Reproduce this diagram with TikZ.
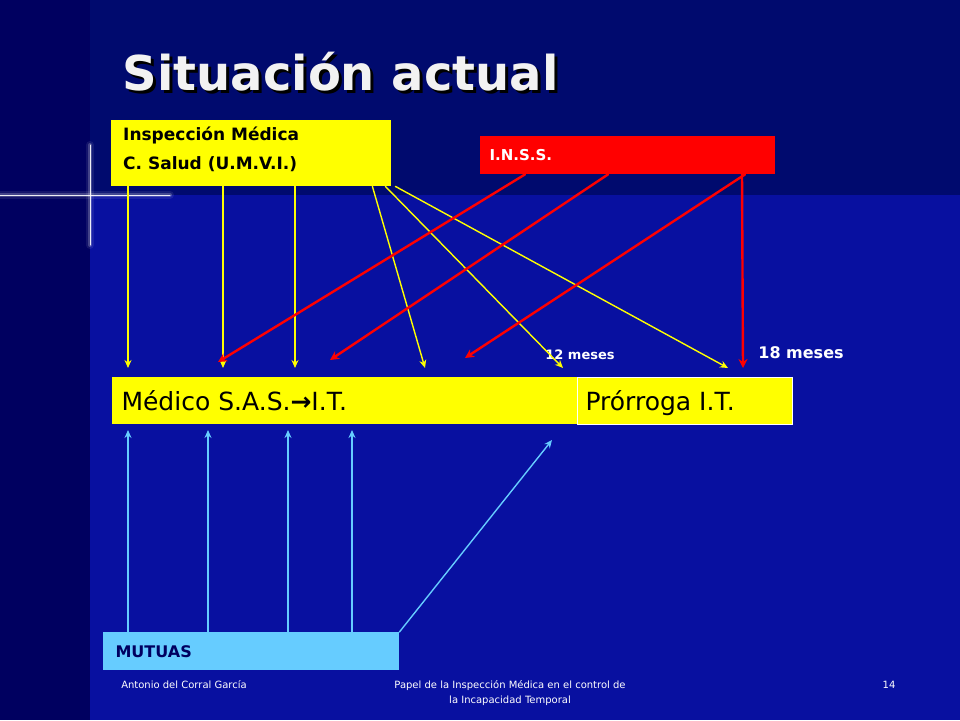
\documentclass[tikz,border=0pt]{standalone}
\usepackage{fontspec}
\setmainfont{DejaVu Sans}
\usetikzlibrary{arrows.meta}
\definecolor{navy}{RGB}{0,0,96}
\definecolor{topband}{RGB}{0,10,110}
\definecolor{slide}{RGB}{8,16,160}
\definecolor{mutblue}{RGB}{102,204,255}
\definecolor{ylw}{RGB}{255,255,0}
\definecolor{rd}{RGB}{255,0,0}
\tikzset{
  box/.style={draw=none,inner sep=0pt,anchor=north west},
  yarrow/.style={ylw,line width=1.4pt,-{Stealth[length=8pt,width=7pt]}},
  rarrow/.style={rd,line width=2.4pt,-{Stealth[length=9pt,width=9pt]}},
  barrow/.style={mutblue,line width=1.4pt,-{Stealth[length=8pt,width=7pt]}},
  foot/.style={white,font=\fontsize{10}{15}\selectfont}
}
\begin{document}
\begin{tikzpicture}[x=1pt,y=-1pt,line cap=round]
\useasboundingbox (0,0) rectangle (960,720);
% background
\fill[navy] (0,0) rectangle (960,720);
\fill[slide] (90,195) rectangle (960,720);
\fill[topband] (90,0) rectangle (960,195);
\foreach \w/\o in {8/0.08,4/0.2,1/0.9}{
  \draw[white,opacity=\o,line width=\w pt] (0,195) -- (170,195);
  \draw[white,opacity=\o,line width=\w pt] (90,145) -- (90,245);
}
% title
\node[black,anchor=west,font=\bfseries\fontsize{48}{52}\selectfont] (titleshadow) at (122,75) {Situación actual};
\node[white!90!gray,anchor=west,font=\bfseries\fontsize{48}{52}\selectfont] (title) at (119,72) {Situación actual};
% boxes
\node[box,fill=ylw,minimum width=280pt,minimum height=66pt] (insp) at (111,120) {};
\node[anchor=north west,align=left,font=\bfseries\fontsize{17}{29}\selectfont,inner sep=0pt] (insptxt) at (123,127) {Inspección Médica\\C. Salud (U.M.V.I.)};
\node[box,fill=rd,minimum width=295pt,minimum height=38pt] (inss) at (480,136) {};
\node[anchor=west,white,font=\bfseries\fontsize{15}{18}\selectfont] (insstxt) at (486,155) {I.N.S.S.};
\node[box,fill=ylw,minimum width=465pt,minimum height=47pt] (med) at (112,377) {};
\node[box,fill=ylw,draw=white,minimum width=215pt,minimum height=47pt] (pro) at (577,377) {};
\node[anchor=west,font=\fontsize{25}{28}\selectfont] (medtxt) at (118,401) {Médico S.A.S.{\bfseries →}I.T.};
\node[anchor=west,font=\fontsize{25}{28}\selectfont] (protxt) at (582,403) {Prórroga I.T.};
\node[box,fill=mutblue,minimum width=296pt,minimum height=38pt] (mut) at (103,632) {};
\node[anchor=west,text=navy,font=\bfseries\fontsize{16}{18}\selectfont] (muttxt) at (112,652) {MUTUAS};
% labels
\node[white,font=\bfseries\fontsize{13}{14}\selectfont] (m12) at (580,355) {12 meses};
\node[white,font=\bfseries\fontsize{16}{18}\selectfont] (m18) at (801,353) {18 meses};
% end points
\foreach \n/\x/\y in {y1/128/368,y2/223/368,y3/295/368,y4/425/368,y5/563/368,y6/728/368,
  r1/218/362,r2/330/360,r3/465/358,r4/743/368,
  b1/128/430,b2/208/430,b3/288/430,b4/352/430,b5/552/440}
  \coordinate (\n) at (\x,\y);
% yellow
\draw[yarrow] (insp.south west -| y1) -- (y1);
\draw[yarrow] (insp.south west -| y2) -- (y2);
\draw[yarrow] (insp.south west -| y3) -- (y3);
\draw[yarrow] ([xshift=-19pt]insp.south east) -- (y4);
\draw[yarrow] ([xshift=-6pt]insp.south east) -- (y5);
\draw[yarrow] ([xshift=4pt,yshift=0pt]insp.south east) -- (y6);
% red
\draw[rarrow] ([xshift=45pt]inss.south west) -- (r1);
\draw[rarrow] ([xshift=128pt]inss.south west) -- (r2);
\draw[rarrow] ([xshift=265pt]inss.south west) -- (r3);
\draw[rarrow] ([xshift=262pt]inss.south west) -- (r4);
% blue
\foreach \b in {b1,b2,b3,b4}
  \draw[barrow] (mut.north west -| \b) -- (\b);
\draw[barrow] (mut.north east) -- (b5);
% footer
\node[foot] (f1) at (184,685) {Antonio del Corral García};
\node[foot,align=center] (f2) at (510,693) {Papel de la Inspección Médica en el control de\\la Incapacidad Temporal};
\node[foot] (f3) at (889,685) {14};
\end{tikzpicture}
\end{document}
